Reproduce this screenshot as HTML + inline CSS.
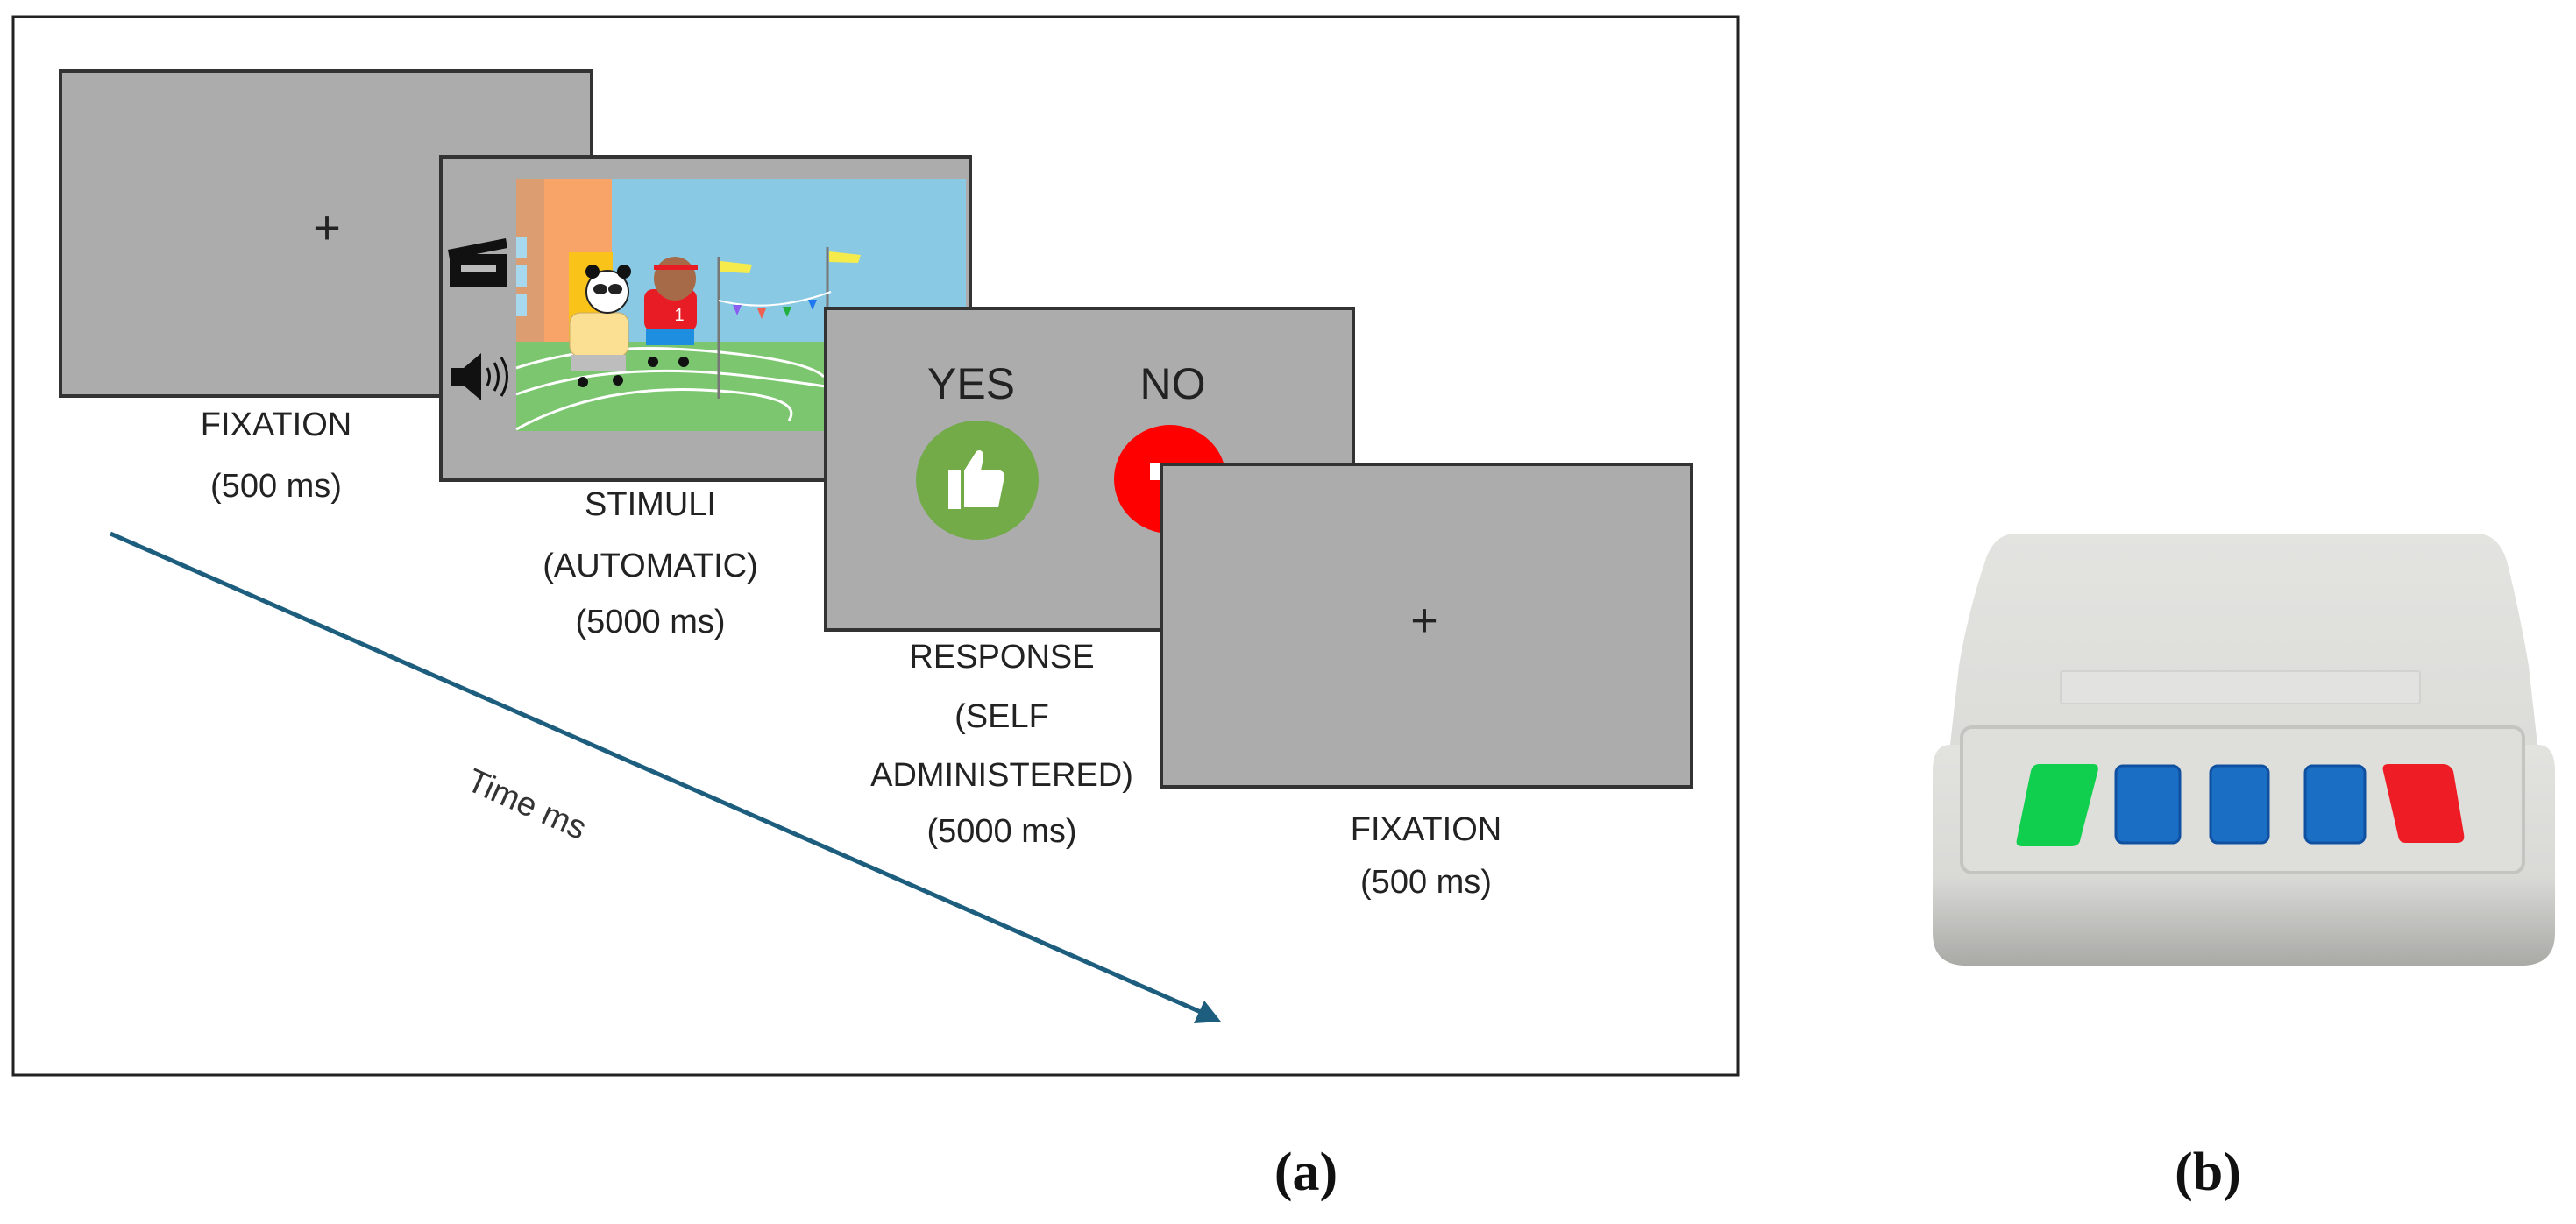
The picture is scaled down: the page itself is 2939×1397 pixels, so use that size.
<!DOCTYPE html>
<html><head><meta charset="utf-8"><style>
html,body{margin:0;padding:0;background:#fff;}
svg{display:block;}
text{font-family:"Liberation Sans",sans-serif;fill:#222;}
</style></head><body>
<svg width="2939" height="1397" viewBox="0 0 2939 1397" xmlns="http://www.w3.org/2000/svg">
<defs>
<linearGradient id="body" x1="0" y1="0" x2="0" y2="1">
<stop offset="0" stop-color="#e2e2df"/><stop offset="0.6" stop-color="#d9d9d6"/><stop offset="1" stop-color="#a9a9a6"/></linearGradient>
<linearGradient id="top" x1="0" y1="0" x2="0" y2="1">
<stop offset="0" stop-color="#e3e3e0"/><stop offset="1" stop-color="#dcdcd9"/></linearGradient>
</defs>
<rect x="15" y="19" width="1968" height="1208" fill="#fff" stroke="#222" stroke-width="3"/>

<rect x="69" y="81" width="606" height="371" fill="#acacac" stroke="#333" stroke-width="4"/>
<text x="373" y="278" font-size="54" text-anchor="middle">+</text>
<text x="315" y="497" font-size="38" text-anchor="middle">FIXATION</text>
<text x="315" y="567" font-size="38" text-anchor="middle">(500 ms)</text>

<rect x="503" y="179" width="604" height="369" fill="#acacac" stroke="#333" stroke-width="4"/>
<rect x="589" y="204" width="513" height="288" fill="#89c9e3"/>
<rect x="589" y="390" width="513" height="102" fill="#7dc670"/>
<rect x="589" y="204" width="32" height="186" fill="#dc9d70"/>
<rect x="621" y="204" width="77" height="186" fill="#f8a468"/>
<rect x="589" y="270" width="12" height="25" fill="#a8d8ee"/>
<rect x="589" y="303" width="12" height="25" fill="#a8d8ee"/>
<rect x="589" y="336" width="12" height="25" fill="#a8d8ee"/>
<rect x="649" y="288" width="50" height="100" fill="#f9c31a"/>
<g fill="none" stroke="#fff" stroke-width="3">
<path d="M589 420 Q680 390 800 400 T940 430"/>
<path d="M589 450 Q700 410 860 430 T960 450"/>
<path d="M589 490 Q680 440 800 445 T900 480"/>
</g>
<line x1="820" y1="293" x2="820" y2="455" stroke="#777" stroke-width="3"/>
<line x1="944" y1="282" x2="944" y2="440" stroke="#777" stroke-width="3"/>
<path d="M822 298 L858 302 L855 312 L822 310Z" fill="#f5ec4c"/>
<path d="M946 287 L982 291 L979 300 L946 299Z" fill="#f5ec4c"/>
<path d="M820 343 Q880 358 948 333" fill="none" stroke="#fff" stroke-width="2"/>
<path d="M836 348 l10 0 -5 12z" fill="#8a5cf0"/><path d="M864 352 l10 0 -5 12z" fill="#f06050"/><path d="M893 350 l10 0 -5 12z" fill="#22b040"/><path d="M922 342 l10 0 -5 12z" fill="#2078f0"/>
<rect x="650" y="357" width="67" height="50" rx="12" fill="#fbe094" stroke="#c9a860"/>
<rect x="652" y="405" width="62" height="18" fill="#bdbdbd"/>
<circle cx="693" cy="333" r="24" fill="#fff" stroke="#222" stroke-width="2"/>
<circle cx="676" cy="310" r="8" fill="#111"/><circle cx="712" cy="310" r="8" fill="#111"/>
<ellipse cx="685" cy="330" rx="8" ry="6" fill="#222"/><ellipse cx="702" cy="330" rx="8" ry="6" fill="#222"/>
<circle cx="665" cy="436" r="6" fill="#111"/><circle cx="705" cy="434" r="6" fill="#111"/>
<rect x="735" y="330" width="60" height="48" rx="10" fill="#e81c24"/>
<rect x="737" y="376" width="55" height="18" fill="#1e8ee0"/>
<ellipse cx="770" cy="318" rx="24" ry="25" fill="#a66a48"/>
<rect x="746" y="302" width="50" height="6" fill="#e81c24"/>
<text x="775" y="366" font-size="20" style="fill:#fff" text-anchor="middle">1</text>
<circle cx="745" cy="413" r="6" fill="#111"/><circle cx="780" cy="413" r="6" fill="#111"/>
<rect x="513" y="290" width="66" height="38" fill="#111"/>
<rect x="526" y="303" width="40" height="8" fill="#bbb"/>
<path d="M511 285 L577 272 L579 283 L513 296Z" fill="#111"/>
<path d="M514 420 h15 l20 -17 v54 l-20 -17 h-15z" fill="#111"/>
<path d="M556 420 q5 10 0 20 M564 414 q9 16 0 32 M572 408 q13 22 0 44" stroke="#111" stroke-width="3" fill="none"/>
<text x="742" y="588" font-size="38" text-anchor="middle">STIMULI</text>
<text x="742" y="658" font-size="38" text-anchor="middle">(AUTOMATIC)</text>
<text x="742" y="722" font-size="38" text-anchor="middle">(5000 ms)</text>

<rect x="942" y="352" width="602" height="367" fill="#acacac" stroke="#333" stroke-width="4"/>
<text x="1108" y="455" font-size="50" text-anchor="middle">YES</text>
<text x="1338" y="455" font-size="50" text-anchor="middle">NO</text>
<ellipse cx="1115" cy="548" rx="70" ry="68" fill="#72ab48"/>
<path d="M1082 537 h14 v44 h-14z M1100 537 l14 -22 q8 -4 8 8 l-3 14 h22 q7 2 4 12 l-6 30 h-39z" fill="#fff"/>
<ellipse cx="1335" cy="547" rx="64" ry="62" fill="#fe0000"/>
<path d="M1312 528 h40 v20 h-40z" fill="#fff"/>
<text x="1143" y="762" font-size="38" text-anchor="middle">RESPONSE</text>
<text x="1143" y="830" font-size="38" text-anchor="middle">(SELF</text>
<text x="1143" y="897" font-size="38" text-anchor="middle">ADMINISTERED)</text>
<text x="1143" y="961" font-size="38" text-anchor="middle">(5000 ms)</text>

<rect x="1325" y="530" width="605" height="368" fill="#acacac" stroke="#333" stroke-width="4"/>
<text x="1625" y="726" font-size="54" text-anchor="middle">+</text>
<text x="1627" y="959" font-size="38" text-anchor="middle">FIXATION</text>
<text x="1627" y="1019" font-size="38" text-anchor="middle">(500 ms)</text>

<line x1="126" y1="609" x2="1372" y2="1156" stroke="#1d5e7e" stroke-width="5"/>
<path d="M1393 1166 L1362 1168 L1374 1142Z" fill="#1d5e7e"/>
<text x="530" y="900" font-size="38" transform="rotate(24 530 900)" style="fill:#333">Time ms</text>

<text x="1490" y="1358" font-size="62" font-weight="bold" text-anchor="middle" style="font-family:'Liberation Serif',serif;fill:#111">(a)</text>
<text x="2519" y="1358" font-size="62" font-weight="bold" text-anchor="middle" style="font-family:'Liberation Serif',serif;fill:#111">(b)</text>

<!-- device -->
<path d="M2225 850 Q2205 850 2205 880 L2205 1065 Q2205 1100 2240 1102 L2880 1102 Q2915 1100 2915 1065 L2915 880 Q2915 850 2895 850Z" fill="url(#body)"/>
<path d="M2300 609 L2825 609 Q2850 609 2860 640 Q2875 700 2885 760 L2895 850 L2225 850 L2235 760 Q2245 700 2265 640 Q2275 609 2300 609Z" fill="url(#top)"/>
<rect x="2351" y="766" width="410" height="37" rx="3" fill="#e2e2e0" stroke="#d2d2d0" stroke-width="2"/>
<rect x="2238" y="830" width="641" height="166" rx="12" fill="#dededb" stroke="#c4c4c1" stroke-width="4"/>
<path d="M2320 872 h68 q8 0 5 10 l-20 78 q-2 6 -10 6 h-56 q-8 0 -6 -8 l16 -78 q2 -8 10 -8z" fill="#10cf4e"/>
<rect x="2414" y="874" width="73" height="88" rx="8" fill="#1a6ec4" stroke="#1050a0" stroke-width="3"/>
<rect x="2522" y="874" width="66" height="88" rx="8" fill="#1a6ec4" stroke="#1050a0" stroke-width="3"/>
<rect x="2630" y="874" width="68" height="88" rx="8" fill="#1a6ec4" stroke="#1050a0" stroke-width="3"/>
<path d="M2725 872 h62 q8 0 12 8 l12 72 q2 10 -8 10 h-58 q-8 0 -9 -8 l-17 -74 q-2 -8 6 -8z" fill="#ee1c24"/>
</svg>
</body></html>
